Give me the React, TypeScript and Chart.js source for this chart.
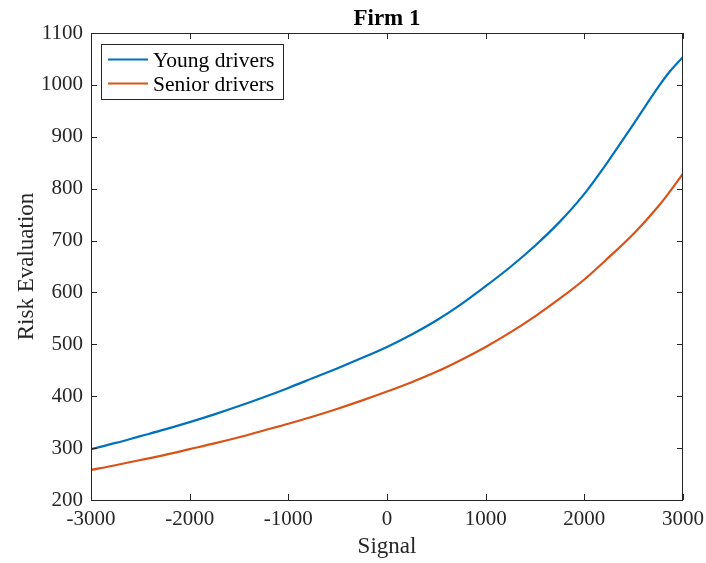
import React, { useEffect, useRef } from "react";
import { Chart, registerables } from "chart.js";

Chart.register(...registerables);

const signal = [-3000, -2750, -2500, -2250, -2000, -1750, -1500, -1250, -1000, -750, -500, -250, 0, 250, 500, 750, 1000, 1250, 1500, 1750, 2000, 2250, 2500, 2750, 2850, 3000];
const youngDrivers = [298, 310, 323, 336, 350, 365, 381, 398, 416, 435, 454, 474, 495, 519, 546, 577, 612, 649, 690, 736, 790, 855, 925, 996, 1022, 1054];
const seniorDrivers = [258, 267, 277, 287, 298, 309, 321, 334, 347, 361, 376, 392, 409, 427, 447, 470, 495, 523, 554, 588, 625, 668, 713, 766, 790, 829];

const seriesNames = ["Young drivers", "Senior drivers"];
const seriesColors = ["#0072BD", "#D95319"];
const xTicks = [-3000, -2000, -1000, 0, 1000, 2000, 3000];
const yTicks = [200, 300, 400, 500, 600, 700, 800, 900, 1000, 1100];
const chartTitle = "Firm 1";
const xLabel = "Signal";
const yLabel = "Risk Evaluation";

const FONT = '"Liberation Serif", "Times New Roman", serif';
const AXIS_COLOR = "#262626";

const decorPlugin = {
  id: "matlabDecor",
  afterDraw(chart: any) {
    const { ctx, chartArea, scales } = chart;
    const { left, right, top, bottom } = chartArea;
    const xs = scales.x;
    const ys = scales.y;
    ctx.save();
    ctx.strokeStyle = AXIS_COLOR;
    ctx.lineWidth = 1;
    ctx.beginPath();
    ctx.moveTo(left + 0.5, top + 0.5);
    ctx.lineTo(right - 0.5, top + 0.5);
    ctx.lineTo(right - 0.5, bottom + 0.5);
    ctx.lineTo(left + 0.5, bottom + 0.5);
    ctx.closePath();
    ctx.stroke();
    const tl = 6;
    ctx.beginPath();
    xTicks.forEach((v) => {
      const px = Math.round(xs.getPixelForValue(v)) + 0.5;
      ctx.moveTo(px, bottom);
      ctx.lineTo(px, bottom - tl);
      ctx.moveTo(px, top);
      ctx.lineTo(px, top + tl);
    });
    yTicks.forEach((v) => {
      const py = Math.round(ys.getPixelForValue(v)) + 0.5;
      ctx.moveTo(left, py);
      ctx.lineTo(left + tl, py);
      ctx.moveTo(right, py);
      ctx.lineTo(right - tl, py);
    });
    ctx.stroke();

    const cx = (left + right) / 2;
    ctx.fillStyle = "#000000";
    ctx.font = `bold 23px ${FONT}`;
    ctx.textAlign = "center";
    ctx.textBaseline = "alphabetic";
    ctx.fillText(chartTitle, cx, 25);

    ctx.fillStyle = AXIS_COLOR;
    ctx.font = `23px ${FONT}`;
    ctx.fillText(xLabel, cx, 553);

    ctx.save();
    ctx.translate(33, (top + bottom) / 2);
    ctx.rotate(-Math.PI / 2);
    ctx.fillText(yLabel, 0, 0);
    ctx.restore();

    const bx = 101.5, by = 44.5, bw = 182, bh = 55;
    ctx.fillStyle = "#ffffff";
    ctx.fillRect(bx, by, bw, bh);
    ctx.strokeStyle = AXIS_COLOR;
    ctx.lineWidth = 1;
    ctx.strokeRect(bx, by, bw, bh);
    ctx.font = `21.5px ${FONT}`;
    ctx.textAlign = "left";
    ctx.textBaseline = "alphabetic";
    const rows = [59.5, 83.5];
    seriesNames.forEach((name, i) => {
      ctx.strokeStyle = seriesColors[i];
      ctx.lineWidth = 2.2;
      ctx.beginPath();
      ctx.moveTo(108, rows[i]);
      ctx.lineTo(148, rows[i]);
      ctx.stroke();
      ctx.fillStyle = "#000000";
      ctx.fillText(name, 153, rows[i] + 7);
    });
    ctx.restore();
  },
};

export default function App() {
  const canvasRef = useRef<HTMLCanvasElement | null>(null);

  useEffect(() => {
    document.body.style.margin = "0";
    const canvas = canvasRef.current;
    if (!canvas) return;
    const datasets = [youngDrivers, seniorDrivers].map((vals, i) => ({
      label: seriesNames[i],
      data: signal.map((s, j) => ({ x: s, y: vals[j] })),
      borderColor: seriesColors[i],
      backgroundColor: seriesColors[i],
      borderWidth: 2.2,
      pointRadius: 0,
      fill: false,
      cubicInterpolationMode: "monotone" as const,
    }));
    const chart = new Chart(canvas, {
      type: "line",
      data: { datasets },
      plugins: [decorPlugin],
      options: {
        animation: false,
        responsive: false,
        maintainAspectRatio: false,
        devicePixelRatio: 1,
        layout: { padding: { top: 33, right: 23, bottom: 0, left: 0 } },
        plugins: {
          legend: { display: false },
          title: { display: false },
          tooltip: { enabled: false },
        },
        scales: {
          x: {
            type: "linear",
            min: -3000,
            max: 3000,
            afterBuildTicks: (scale: any) => {
              scale.ticks = xTicks.map((v) => ({ value: v }));
            },
            afterFit: (scale: any) => {
              scale.height = 63;
              scale.paddingLeft = 0;
              scale.paddingRight = 0;
            },
            grid: { display: false, drawTicks: false },
            border: { display: false },
            ticks: {
              autoSkip: false,
              maxRotation: 0,
              padding: 7,
              color: AXIS_COLOR,
              font: { family: FONT, size: 21 },
              callback: (v: any) => String(v),
            },
          },
          y: {
            type: "linear",
            min: 200,
            max: 1100,
            afterBuildTicks: (scale: any) => {
              scale.ticks = yTicks.map((v) => ({ value: v }));
            },
            afterFit: (scale: any) => {
              scale.width = 91;
              scale.paddingTop = 0;
              scale.paddingBottom = 0;
            },
            grid: { display: false, drawTicks: false },
            border: { display: false },
            ticks: {
              autoSkip: false,
              padding: 8,
              color: AXIS_COLOR,
              font: { family: FONT, size: 21 },
              callback: (v: any) => String(v),
            },
          },
        },
      },
    });
    return () => chart.destroy();
  }, []);

  return (
    <div style={{ position: "fixed", left: 0, top: 0, width: 706, height: 563, background: "#ffffff" }}>
      <canvas ref={canvasRef} width={706} height={563} style={{ width: 706, height: 563, display: "block" }} />
    </div>
  );
}
